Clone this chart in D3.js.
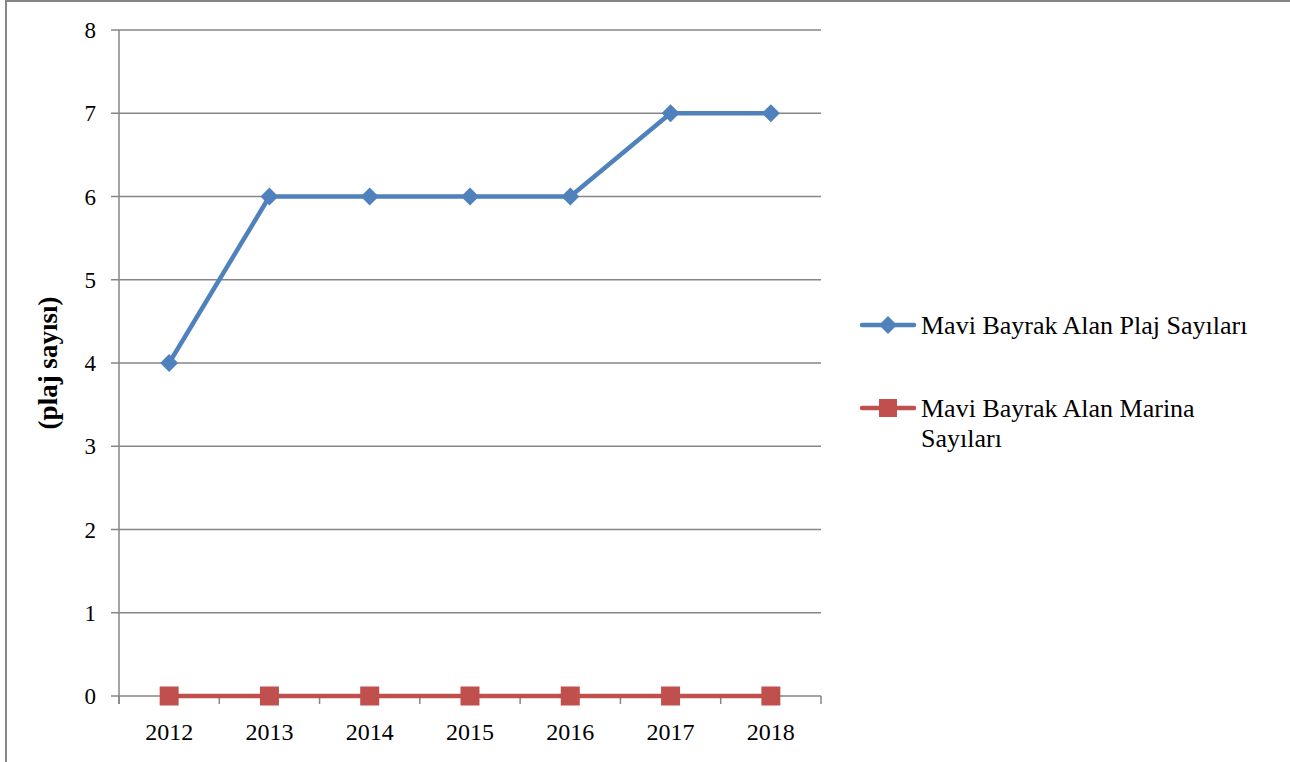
<!DOCTYPE html>
<html>
<head>
<meta charset="utf-8">
<script src="https://cdn.jsdelivr.net/npm/d3@7"></script>
<style>
	body { margin: 0; background: #fff; }
	text { font-family: "Liberation Serif", "DejaVu Serif", serif; fill: #000; }
</style>
</head>
<body>
<div id="chart"></div>
<script>
// data
var years = ['2012', '2013', '2014', '2015', '2016', '2017', '2018'];
var plajValues = [4, 6, 6, 6, 6, 7, 7];
var marinaValues = [0, 0, 0, 0, 0, 0, 0];
var yTicks = [0, 1, 2, 3, 4, 5, 6, 7, 8];
var seriesNames = ['Mavi Bayrak Alan Plaj Sayıları', 'Mavi Bayrak Alan Marina Sayıları'];
var yTitle = '(plaj sayısı)';

var width = 1290, height = 762;
var plot = {left: 119, right: 821, top: 30, bottom: 696};
var blue = '#4F81BD', red = '#C0504D', gridColor = '#868686';

var svg = d3.select('#chart').append('svg')
	.attr('width', width)
	.attr('height', height);

// outer frame
svg.append('rect')
	.attr('x', 6).attr('y', 1)
	.attr('width', width + 10).attr('height', height + 10)
	.attr('fill', 'none')
	.attr('stroke', gridColor)
	.attr('stroke-width', 2);

var x = d3.scaleBand()
	.domain(years)
	.range([plot.left, plot.right]);
var y = d3.scaleLinear()
	.domain([0, 8])
	.range([plot.bottom, plot.top]);

// gridlines
svg.append('g')
	.selectAll('line')
	.data(yTicks)
	.enter()
	.append('line')
	.attr('x1', plot.left - 8)
	.attr('x2', plot.right)
	.attr('y1', d => y(d))
	.attr('y2', d => y(d))
	.attr('stroke', gridColor)
	.attr('stroke-width', 1.5);

// y axis line
svg.append('line')
	.attr('x1', plot.left).attr('x2', plot.left)
	.attr('y1', plot.top).attr('y2', plot.bottom + 8)
	.attr('stroke', gridColor)
	.attr('stroke-width', 1.5);

// category ticks
var catEdges = years.map(d => x(d)).concat([plot.right]);
svg.append('g')
	.selectAll('line')
	.data(catEdges)
	.enter()
	.append('line')
	.attr('x1', d => d).attr('x2', d => d)
	.attr('y1', plot.bottom).attr('y2', plot.bottom + 8)
	.attr('stroke', gridColor)
	.attr('stroke-width', 1.5);

// y tick labels
svg.append('g')
	.selectAll('text')
	.data(yTicks)
	.enter()
	.append('text')
	.attr('x', 96)
	.attr('y', d => y(d) + 8)
	.attr('text-anchor', 'end')
	.style('font-size', '23px')
	.text(d => d);

// x tick labels
svg.append('g')
	.selectAll('text')
	.data(years)
	.enter()
	.append('text')
	.attr('x', d => x(d) + x.bandwidth() / 2)
	.attr('y', 740)
	.attr('text-anchor', 'middle')
	.style('font-size', '24px')
	.text(d => d);

// y title
svg.append('text')
	.attr('transform', 'translate(57,363) rotate(-90)')
	.attr('text-anchor', 'middle')
	.style('font-size', '27px')
	.style('font-weight', 'bold')
	.text(yTitle);

var line = d3.line()
	.x((d, i) => x(years[i]) + x.bandwidth() / 2)
	.y(d => y(d));

// square diamond, not d3's tall one
var diamondPath = 'M0,-9L9,0L0,9L-9,0Z';

function drawSeries(values, color, marker) {
	svg.append('path')
		.datum(values)
		.attr('d', line)
		.attr('fill', 'none')
		.attr('stroke', color)
		.attr('stroke-width', 4.5)
		.attr('stroke-linejoin', 'round');
	var g = svg.append('g');
	if (marker == 'diamond') {
		g.selectAll('path')
			.data(values)
			.enter()
			.append('path')
			.attr('d', diamondPath)
			.attr('transform', (d, i) => 'translate(' + (x(years[i]) + x.bandwidth() / 2) + ',' + y(d) + ')')
			.attr('fill', color);
	} else {
		g.selectAll('rect')
			.data(values)
			.enter()
			.append('rect')
			.attr('x', (d, i) => x(years[i]) + x.bandwidth() / 2 - 9.5)
			.attr('y', d => y(d) - 9.5)
			.attr('width', 19)
			.attr('height', 19)
			.attr('fill', color);
	}
}

drawSeries(plajValues, blue, 'diamond');
drawSeries(marinaValues, red, 'square');

// legend
var legend = svg.append('g');
var legendRows = [
	{name: seriesNames[0], color: blue, marker: 'diamond', y: 325, lines: ['Mavi Bayrak Alan Plaj Sayıları']},
	{name: seriesNames[1], color: red, marker: 'square', y: 408, lines: ['Mavi Bayrak Alan Marina', 'Sayıları']}
];
legendRows.forEach(function(r) {
	legend.append('line')
		.attr('x1', 862).attr('x2', 914)
		.attr('y1', r.y).attr('y2', r.y)
		.attr('stroke', r.color)
		.attr('stroke-width', 4.5)
		.attr('stroke-linecap', 'round');
	if (r.marker == 'diamond') {
		legend.append('path')
			.attr('d', diamondPath)
			.attr('transform', 'translate(888,' + r.y + ')')
			.attr('fill', r.color);
	} else {
		legend.append('rect')
			.attr('x', 879).attr('y', r.y - 9)
			.attr('width', 18).attr('height', 18)
			.attr('fill', r.color);
	}
	var t = legend.append('text')
		.attr('x', 921)
		.attr('y', r.y + 9)
		.style('font-size', '26px');
	r.lines.forEach(function(s, i) {
		t.append('tspan')
			.attr('x', 921)
			.attr('dy', i == 0 ? 0 : 30)
			.text(s);
	});
});
</script>
</body>
</html>
